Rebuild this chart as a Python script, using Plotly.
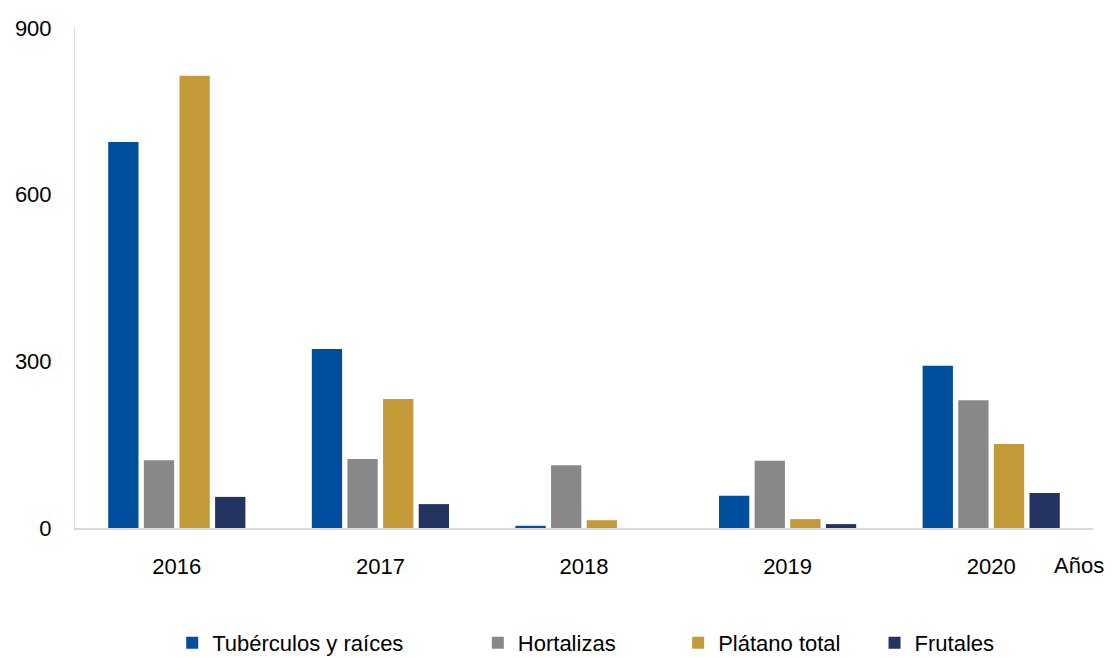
import plotly.graph_objects as go

# Data
years = ["2016", "2017", "2018", "2019", "2020"]
tuberculos = [695, 322, 4, 58, 292]
hortalizas = [122, 124, 113, 121, 230]
platano = [814, 232, 14, 16, 151]
frutales = [56, 43, 0, 7, 63]

series = [
    ("Tubérculos y raíces", tuberculos, "#004E9E"),
    ("Hortalizas", hortalizas, "#888888"),
    ("Plátano total", platano, "#C49A38"),
    ("Frutales", frutales, "#22345F"),
]

# each series gets its own legend so entries sit where the reference has them
legend_x = [0.0955, 0.3957, 0.5925, 0.7854]
legend_ids = ["legend", "legend2", "legend3", "legend4"]

fig = go.Figure()
for (name, vals, color), lid in zip(series, legend_ids):
    fig.add_trace(go.Bar(x=years, y=vals, name=name, marker_color=color,
                         marker_line_width=0, legend=lid))

legend_style = dict(orientation="h", y=-0.23, yanchor="middle", xanchor="left",
                    xref="paper", yref="paper",
                    font=dict(size=22), itemwidth=30, bgcolor="rgba(0,0,0,0)")

layout_legends = {}
for lid, lx in zip(legend_ids, legend_x):
    layout_legends[lid] = dict(legend_style, x=lx)

# page body has an 8px margin, so the figure is a bit smaller than the window
fig.update_layout(
    width=1106,
    height=650,
    template="none",
    paper_bgcolor="white",
    plot_bgcolor="white",
    font=dict(family="Arial, Liberation Sans, sans-serif", size=22, color="#000000"),
    margin=dict(l=67, r=21, t=20, b=130, autoexpand=False),
    barmode="group",
    bargap=0.3,
    bargroupgap=0.15,
    showlegend=True,
    xaxis=dict(
        showline=True,
        linecolor="#D9D9D9",
        linewidth=2,
        ticks="",
        showgrid=False,
        automargin=False,
        ticklabelstandoff=18,
        tickfont=dict(size=22),
    ),
    yaxis=dict(
        range=[0, 900],
        tickvals=[0, 300, 600, 900],
        showline=True,
        linecolor="#D9D9D9",
        linewidth=1,
        showgrid=False,
        zeroline=False,
        ticks="",
        automargin=False,
        ticklabelstandoff=18,
        tickfont=dict(size=22),
    ),
    annotations=[
        dict(
            text="Años",
            xref="paper", yref="paper",
            x=1.0, y=-0.074,
            xanchor="right", yanchor="middle",
            showarrow=False,
            font=dict(size=22),
            xshift=13,
        )
    ],
    **layout_legends,
)

fig.write_html("out.html")
